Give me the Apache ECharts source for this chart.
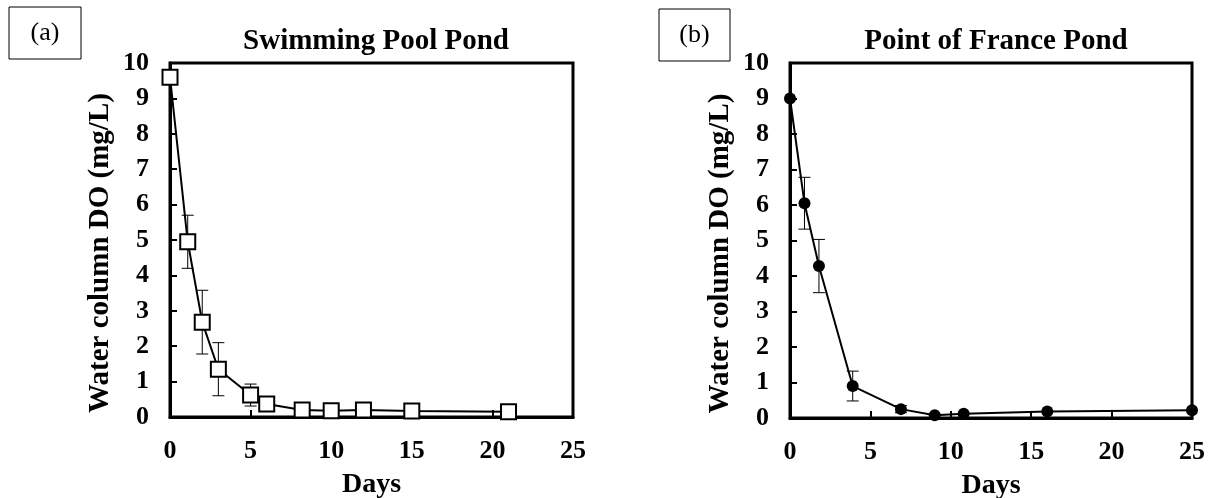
<!DOCTYPE html>
<html>
<head>
<meta charset="utf-8">
<script src="https://cdn.jsdelivr.net/npm/echarts@6/dist/echarts.min.js"></script>
<style>html,body{margin:0;padding:0;background:#fff}#c{width:1210px;height:498px}</style>
</head>
<body>
<div id="c"></div>
<script>
// Panel (a): Swimming Pool Pond
const daysA = [0, 1.1, 2, 3, 5, 6, 8.2, 10, 12, 15, 21];
const doA   = [9.6, 4.95, 2.68, 1.35, 0.62, 0.37, 0.2, 0.18, 0.2, 0.17, 0.15];
const sdA   = [0, 0.75, 0.9, 0.75, 0.31, 0, 0, 0, 0, 0, 0];
// Panel (b): Point of France Pond
const daysB = [0, 0.9, 1.8, 3.9, 6.9, 9, 10.8, 16, 25];
const doB   = [9.0, 6.05, 4.28, 0.9, 0.25, 0.08, 0.12, 0.18, 0.22];
const sdB   = [0, 0.73, 0.75, 0.42, 0.1, 0, 0, 0, 0];
const titles = ['Swimming Pool Pond', 'Point of France Pond'];
const panelLabels = ['(a)', '(b)'];
const xName = 'Days';
const yName = 'Water column DO (mg/L)';

const FONT = 'Liberation Serif';
const chart = echarts.init(document.getElementById('c'));

function pts(d, v) { return d.map((x, i) => [x, v[i]]); }
function errs(d, v, s) {
  const out = [];
  d.forEach((x, i) => { if (s[i] > 0) out.push([x, v[i] - s[i], v[i] + s[i]]); });
  return out;
}
function errRender(params, api) {
  const x = api.value(0), lo = api.value(1), hi = api.value(2);
  const a = api.coord([x, lo]), b = api.coord([x, hi]);
  const w = 6;
  const st = { stroke: '#000', lineWidth: 1 };
  return { type: 'group', children: [
    { type: 'line', shape: { x1: a[0], y1: a[1], x2: b[0], y2: b[1] }, style: st },
    { type: 'line', shape: { x1: a[0] - w, y1: a[1], x2: a[0] + w, y2: a[1] }, style: st },
    { type: 'line', shape: { x1: b[0] - w, y1: b[1], x2: b[0] + w, y2: b[1] }, style: st }
  ]};
}
function xAx(i) {
  return {
    type: 'value', gridIndex: i, min: 0, max: 25, interval: 5,
    name: xName, nameLocation: 'middle', nameGap: 54,
    nameTextStyle: { fontFamily: FONT, fontWeight: 'bold', fontSize: 28, color: '#000' },
    axisLine: { lineStyle: { color: '#000', width: 3 } },
    axisTick: { inside: true, length: 7, lineStyle: { color: '#000', width: 2 } },
    axisLabel: { margin: 21, fontFamily: FONT, fontWeight: 'bold', fontSize: 26, color: '#000' },
    splitLine: { show: false }
  };
}
function yAx(i) {
  return {
    type: 'value', gridIndex: i, min: 0, max: 10, interval: 1,
    name: yName, nameLocation: 'middle', nameGap: 55,
    nameTextStyle: { fontFamily: FONT, fontWeight: 'bold', fontSize: 29, color: '#000', padding: [0, 26, 0, 0] },
    axisLine: { lineStyle: { color: '#000', width: 3 } },
    axisTick: { inside: true, length: 7, lineStyle: { color: '#000', width: 2 } },
    axisLabel: { margin: 21, fontFamily: FONT, fontWeight: 'bold', fontSize: 26, color: '#000' },
    splitLine: { show: false }
  };
}

const option = {
  backgroundColor: '#fff',
  animation: false,
  title: [
    { text: titles[0], left: 371, top: 22, textAlign: 'center',
      textStyle: { fontFamily: FONT, fontWeight: 'bold', fontSize: 29, color: '#000' } },
    { text: titles[1], left: 991, top: 22, textAlign: 'center',
      textStyle: { fontFamily: FONT, fontWeight: 'bold', fontSize: 29, color: '#000' } }
  ],
  grid: [
    { left: 170, right: 637, top: 63, bottom: 81, outerBoundsMode: 'none', containLabel: false, show: true, borderColor: '#000', borderWidth: 3, backgroundColor: 'transparent' },
    { left: 790, right: 18, top: 63, bottom: 80, outerBoundsMode: 'none', containLabel: false, show: true, borderColor: '#000', borderWidth: 3, backgroundColor: 'transparent' }
  ],
  xAxis: [xAx(0), xAx(1)],
  yAxis: [yAx(0), yAx(1)],
  graphic: [
    { type: 'rect', shape: { x: 9, y: 7, width: 72, height: 52 }, style: { fill: '#fff', stroke: '#000', lineWidth: 1 } },
    { type: 'text', x: 45, y: 33, style: { text: panelLabels[0], font: '26px "Liberation Serif"', fill: '#000', textAlign: 'center', textVerticalAlign: 'middle' } },
    { type: 'rect', shape: { x: 659, y: 9, width: 71, height: 52 }, style: { fill: '#fff', stroke: '#000', lineWidth: 1 } },
    { type: 'text', x: 694.5, y: 35, style: { text: panelLabels[1], font: '26px "Liberation Serif"', fill: '#000', textAlign: 'center', textVerticalAlign: 'middle' } }
  ],
  series: [
    { type: 'custom', xAxisIndex: 0, yAxisIndex: 0, renderItem: errRender, data: errs(daysA, doA, sdA), clip: false, z: 1 },
    { type: 'line', xAxisIndex: 0, yAxisIndex: 0, data: pts(daysA, doA), z: 3,
      symbol: 'rect', symbolSize: 15, showAllSymbol: true,
      lineStyle: { color: '#000', width: 2 },
      itemStyle: { color: '#fff', borderColor: '#000', borderWidth: 2 } },
    { type: 'custom', xAxisIndex: 1, yAxisIndex: 1, renderItem: errRender, data: errs(daysB, doB, sdB), clip: false, z: 1 },
    { type: 'line', xAxisIndex: 1, yAxisIndex: 1, data: pts(daysB, doB), z: 3,
      symbol: 'circle', symbolSize: 12, showAllSymbol: true,
      lineStyle: { color: '#000', width: 2 },
      itemStyle: { color: '#000', borderColor: '#000', borderWidth: 0 } }
  ]
};
chart.setOption(option);
</script>
</body>
</html>
